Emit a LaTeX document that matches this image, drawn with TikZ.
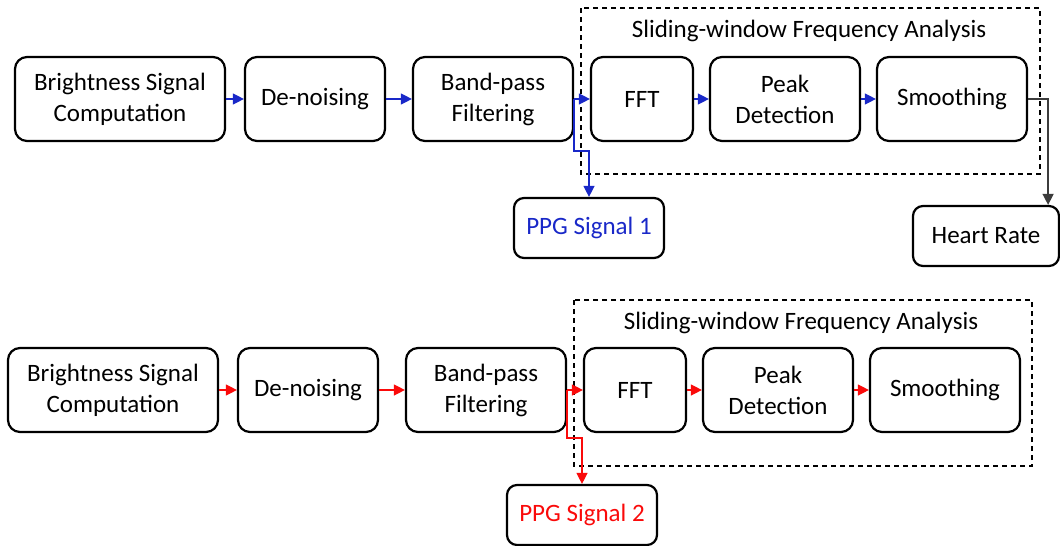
\documentclass[tikz,border=0pt]{standalone}
\usepackage{fontspec}
\setmainfont{Carlito}
\usetikzlibrary{arrows.meta,positioning}

\definecolor{ppgblue}{RGB}{25,40,200}
\definecolor{ppgred}{RGB}{250,10,10}
\definecolor{hrgray}{RGB}{60,60,60}

\begin{document}
\begin{tikzpicture}[
    x=1pt, y=-1pt,
    stage/.style={
        rectangle, rounded corners=12pt, draw, line width=2.2pt,
        minimum height=84pt, align=center,
        font=\fontsize{25}{31}\selectfont
    },
    outbox/.style={
        rectangle, rounded corners=10pt, draw, line width=2.2pt,
        minimum height=60pt, minimum width=150pt,
        font=\fontsize{25}{30}\selectfont
    },
    window/.style={draw, line width=1.2pt, dash pattern=on 5pt off 4pt},
    title style/.style={font=\fontsize{25}{30}\selectfont},
    link/.style={line width=1.3pt, -{Triangle[length=11pt,width=11pt]}}
]
\useasboundingbox (0,0) rectangle (1060,546);

% Sliding windows
\draw[window] (581,8) rectangle (1040,174);
\node[title style] (win1) at (809,31) {Sliding-window Frequency Analysis};
\draw[window] (574,300) rectangle (1032,466);
\node[title style] (win2) at (801,323) {Sliding-window Frequency Analysis};

% First pipeline
\node[stage, minimum width=210pt] (bright1) at (120,99) {Brightness Signal\\Computation};
\node[stage, minimum width=140pt] (denoise1) at (315,99) {De-noising};
\node[stage, minimum width=160pt] (band1) at (493,99) {Band-pass\\Filtering};
\node[stage, minimum width=102pt] (fft1) at (642,99) {FFT};
\node[stage, minimum width=150pt] (peak1) at (785,99) {Peak\\Detection};
\node[stage, minimum width=150pt] (smooth1) at (952,99) {Smoothing};
\node[outbox, text=ppgblue] (ppg1) at (589,228) {PPG Signal 1};
\node[outbox, minimum width=146pt] (hr) at (986,236) {Heart Rate};

\draw[link, ppgblue] (bright1) -- (denoise1);
\draw[link, ppgblue] (denoise1) -- (band1);
\draw[link, ppgblue] (band1) -- (fft1);
\draw[link, ppgblue] (fft1) -- (peak1);
\draw[link, ppgblue] (peak1) -- (smooth1);
\draw[link, ppgblue] (band1.east) -- ++(0,52) -| (ppg1.north);
\draw[link, hrgray] (smooth1.east) -- ++(20,0) coordinate (turn) -- (turn |- hr.north);

% Second pipeline
\node[stage, minimum width=210pt] (bright2) at (113,390) {Brightness Signal\\Computation};
\node[stage, minimum width=140pt] (denoise2) at (308,390) {De-noising};
\node[stage, minimum width=160pt] (band2) at (486,390) {Band-pass\\Filtering};
\node[stage, minimum width=102pt] (fft2) at (635,390) {FFT};
\node[stage, minimum width=150pt] (peak2) at (778,390) {Peak\\Detection};
\node[stage, minimum width=150pt] (smooth2) at (945,390) {Smoothing};
\node[outbox, text=ppgred] (ppg2) at (582,515) {PPG Signal 2};

\draw[link, ppgred] (bright2) -- (denoise2);
\draw[link, ppgred] (denoise2) -- (band2);
\draw[link, ppgred] (band2) -- (fft2);
\draw[link, ppgred] (fft2) -- (peak2);
\draw[link, ppgred] (peak2) -- (smooth2);
\draw[link, ppgred] (band2.east) -- ++(0,48) -| (ppg2.north);

\end{tikzpicture}
\end{document}
